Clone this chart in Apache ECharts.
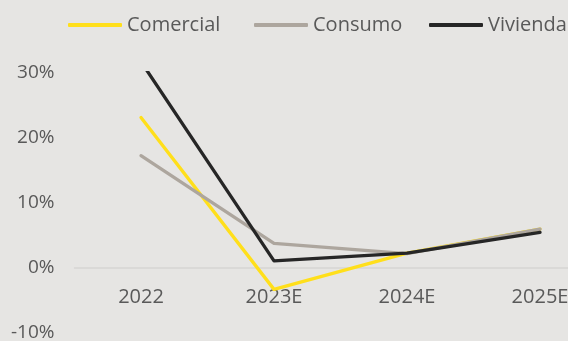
<!DOCTYPE html>
<html>
<head>
<meta charset="utf-8">
<script src="https://cdn.jsdelivr.net/npm/echarts@6/dist/echarts.min.js"></script>
<style>
html,body{margin:0;padding:0;background:#E6E5E3;}
#chart{width:568px;height:341px;}
</style>
</head>
<body>
<div id="chart"></div>
<script>
const categories = ['2022', '2023E', '2024E', '2025E'];
const comercial = [23.1, -3.4, 2.2, 5.9];
const consumo = [17.2, 3.7, 2.1, 5.9];
const vivienda = [31.7, 1.0, 2.2, 5.4];
const yMin = -10, yMax = 30, yInterval = 10;
const seriesNames = ['Comercial', 'Consumo', 'Vivienda'];

const FONT = '"Open Sans", sans-serif';
const TXT = '#595959';

const chart = echarts.init(document.getElementById('chart'), null, {renderer: 'canvas'});
function mk(name, data, color) {
  return {
    name: name, type: 'line', data: data, symbol: 'none', smooth: false,
    lineStyle: {color: color, width: 3.3, cap: 'round', join: 'round'},
    itemStyle: {color: color},
    emphasis: {disabled: true}, animation: false, z: 3
  };
}
function lg(name, left) {
  return {
    left: left, top: 10, width: 200,
    icon: 'roundRect',
    itemWidth: 54, itemHeight: 4,
    textStyle: {color: TXT, fontFamily: FONT, fontSize: 20},
    data: [name]
  };
}
const legendLefts = [63, 249, 424];
chart.setOption({
  backgroundColor: '#E6E5E3',
  animation: false,
  legend: seriesNames.map((n, i) => lg(n, legendLefts[i])),
  grid: {left: 74.5, width: 532, top: 72.7, height: 259.5, containLabel: false, outerBoundsMode: 'none'},
  xAxis: {
    type: 'category', data: categories, boundaryGap: true, z: 1,
    axisLine: {show: true, onZero: true, lineStyle: {color: '#D6D5D3', width: 1.5}},
    axisTick: {show: false},
    axisLabel: {color: TXT, fontFamily: FONT, fontSize: 20, margin: -45, verticalAlign: 'top'}
  },
  yAxis: {
    type: 'value', min: yMin, max: yMax, interval: yInterval,
    axisLine: {show: false}, axisTick: {show: false},
    splitLine: {show: false},
    axisLabel: {color: TXT, fontFamily: FONT, fontSize: 19, margin: 20, formatter: v => v + '%'}
  },
  series: [
    mk(seriesNames[0], comercial, '#FFDF1B'),
    mk(seriesNames[1], consumo, '#ADA69E'),
    mk(seriesNames[2], vivienda, '#262626')
  ]
});
</script>
</body>
</html>
